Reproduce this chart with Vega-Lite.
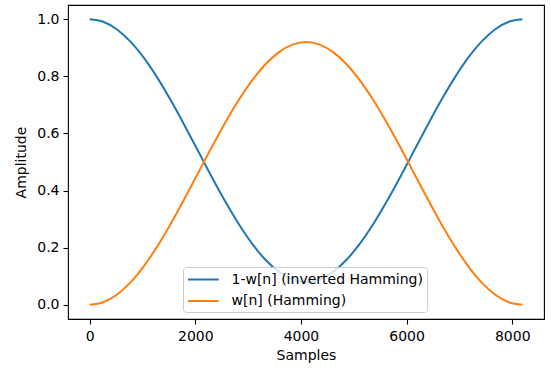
{
  "$schema": "https://vega.github.io/schema/vega-lite/v6.json",
  "width": 476,
  "height": 314,
  "autosize": "none",
  "padding": {"left": 68, "top": 5, "right": 7, "bottom": 49},
  "background": "white",
  "config": {
    "font": "DejaVu Sans",
    "view": {"stroke": "black", "strokeWidth": 1.1},
    "axis": {
      "grid": false,
      "domain": false,
      "tickColor": "black",
      "tickWidth": 1.1,
      "tickSize": 5,
      "labelFont": "DejaVu Sans",
      "labelFontSize": 14,
      "labelColor": "black",
      "labelPadding": 4,
      "titleFont": "DejaVu Sans",
      "titleFontSize": 14,
      "titleFontWeight": "normal",
      "titleColor": "black"
    }
  },
  "data": {
    "values": [
      {"n": 0, "series": "1-w[n] (inverted Hamming)", "amp": 1.0},
      {"n": 256, "series": "1-w[n] (inverted Hamming)", "amp": 0.9912},
      {"n": 512, "series": "1-w[n] (inverted Hamming)", "amp": 0.965},
      {"n": 768, "series": "1-w[n] (inverted Hamming)", "amp": 0.9225},
      {"n": 1024, "series": "1-w[n] (inverted Hamming)", "amp": 0.8653},
      {"n": 1280, "series": "1-w[n] (inverted Hamming)", "amp": 0.7956},
      {"n": 1536, "series": "1-w[n] (inverted Hamming)", "amp": 0.716},
      {"n": 1792, "series": "1-w[n] (inverted Hamming)", "amp": 0.6297},
      {"n": 2048, "series": "1-w[n] (inverted Hamming)", "amp": 0.54},
      {"n": 2304, "series": "1-w[n] (inverted Hamming)", "amp": 0.4503},
      {"n": 2560, "series": "1-w[n] (inverted Hamming)", "amp": 0.364},
      {"n": 2816, "series": "1-w[n] (inverted Hamming)", "amp": 0.2844},
      {"n": 3072, "series": "1-w[n] (inverted Hamming)", "amp": 0.2147},
      {"n": 3328, "series": "1-w[n] (inverted Hamming)", "amp": 0.1575},
      {"n": 3584, "series": "1-w[n] (inverted Hamming)", "amp": 0.115},
      {"n": 3840, "series": "1-w[n] (inverted Hamming)", "amp": 0.0888},
      {"n": 4096, "series": "1-w[n] (inverted Hamming)", "amp": 0.08},
      {"n": 4351, "series": "1-w[n] (inverted Hamming)", "amp": 0.0888},
      {"n": 4607, "series": "1-w[n] (inverted Hamming)", "amp": 0.115},
      {"n": 4863, "series": "1-w[n] (inverted Hamming)", "amp": 0.1575},
      {"n": 5119, "series": "1-w[n] (inverted Hamming)", "amp": 0.2147},
      {"n": 5375, "series": "1-w[n] (inverted Hamming)", "amp": 0.2844},
      {"n": 5631, "series": "1-w[n] (inverted Hamming)", "amp": 0.364},
      {"n": 5887, "series": "1-w[n] (inverted Hamming)", "amp": 0.4503},
      {"n": 6143, "series": "1-w[n] (inverted Hamming)", "amp": 0.54},
      {"n": 6399, "series": "1-w[n] (inverted Hamming)", "amp": 0.6297},
      {"n": 6655, "series": "1-w[n] (inverted Hamming)", "amp": 0.716},
      {"n": 6911, "series": "1-w[n] (inverted Hamming)", "amp": 0.7956},
      {"n": 7167, "series": "1-w[n] (inverted Hamming)", "amp": 0.8653},
      {"n": 7423, "series": "1-w[n] (inverted Hamming)", "amp": 0.9225},
      {"n": 7679, "series": "1-w[n] (inverted Hamming)", "amp": 0.965},
      {"n": 7935, "series": "1-w[n] (inverted Hamming)", "amp": 0.9912},
      {"n": 8191, "series": "1-w[n] (inverted Hamming)", "amp": 1.0},
      {"n": 0, "series": "w[n] (Hamming)", "amp": 0.0},
      {"n": 256, "series": "w[n] (Hamming)", "amp": 0.0088},
      {"n": 512, "series": "w[n] (Hamming)", "amp": 0.035},
      {"n": 768, "series": "w[n] (Hamming)", "amp": 0.0775},
      {"n": 1024, "series": "w[n] (Hamming)", "amp": 0.1347},
      {"n": 1280, "series": "w[n] (Hamming)", "amp": 0.2044},
      {"n": 1536, "series": "w[n] (Hamming)", "amp": 0.284},
      {"n": 1792, "series": "w[n] (Hamming)", "amp": 0.3703},
      {"n": 2048, "series": "w[n] (Hamming)", "amp": 0.46},
      {"n": 2304, "series": "w[n] (Hamming)", "amp": 0.5497},
      {"n": 2560, "series": "w[n] (Hamming)", "amp": 0.636},
      {"n": 2816, "series": "w[n] (Hamming)", "amp": 0.7156},
      {"n": 3072, "series": "w[n] (Hamming)", "amp": 0.7853},
      {"n": 3328, "series": "w[n] (Hamming)", "amp": 0.8425},
      {"n": 3584, "series": "w[n] (Hamming)", "amp": 0.885},
      {"n": 3840, "series": "w[n] (Hamming)", "amp": 0.9112},
      {"n": 4096, "series": "w[n] (Hamming)", "amp": 0.92},
      {"n": 4351, "series": "w[n] (Hamming)", "amp": 0.9112},
      {"n": 4607, "series": "w[n] (Hamming)", "amp": 0.885},
      {"n": 4863, "series": "w[n] (Hamming)", "amp": 0.8425},
      {"n": 5119, "series": "w[n] (Hamming)", "amp": 0.7853},
      {"n": 5375, "series": "w[n] (Hamming)", "amp": 0.7156},
      {"n": 5631, "series": "w[n] (Hamming)", "amp": 0.636},
      {"n": 5887, "series": "w[n] (Hamming)", "amp": 0.5497},
      {"n": 6143, "series": "w[n] (Hamming)", "amp": 0.46},
      {"n": 6399, "series": "w[n] (Hamming)", "amp": 0.3703},
      {"n": 6655, "series": "w[n] (Hamming)", "amp": 0.284},
      {"n": 6911, "series": "w[n] (Hamming)", "amp": 0.2044},
      {"n": 7167, "series": "w[n] (Hamming)", "amp": 0.1347},
      {"n": 7423, "series": "w[n] (Hamming)", "amp": 0.0775},
      {"n": 7679, "series": "w[n] (Hamming)", "amp": 0.035},
      {"n": 7935, "series": "w[n] (Hamming)", "amp": 0.0088},
      {"n": 8191, "series": "w[n] (Hamming)", "amp": 0.0}
    ]
  },
  "mark": {"type": "line", "strokeWidth": 2, "interpolate": "monotone"},
  "encoding": {
    "x": {
      "field": "n",
      "type": "quantitative",
      "title": "Samples",
      "scale": {"domain": [-410, 8601], "nice": false, "zero": false},
      "axis": {"values": [0, 2000, 4000, 6000, 8000], "format": "d", "labelPadding": 5, "titlePadding": 5}
    },
    "y": {
      "field": "amp",
      "type": "quantitative",
      "title": "Amplitude",
      "scale": {"domain": [-0.05, 1.05], "nice": false, "zero": false},
      "axis": {"values": [0, 0.2, 0.4, 0.6, 0.8, 1.0], "format": ".1f", "titlePadding": 8}
    },
    "color": {
      "field": "series",
      "type": "nominal",
      "scale": {
        "domain": ["1-w[n] (inverted Hamming)", "w[n] (Hamming)"],
        "range": ["#1f77b4", "#ff7f0e"]
      },
      "legend": {
        "title": null,
        "orient": "none",
        "legendX": 115,
        "legendY": 262,
        "direction": "vertical",
        "fillColor": "rgba(255,255,255,0.8)",
        "strokeColor": "#cccccc",
        "cornerRadius": 3,
        "padding": 4,
        "symbolType": "M-1,0H3.1",
        "symbolSize": 225,
        "symbolStrokeWidth": 2,
        "labelFont": "DejaVu Sans",
        "labelFontSize": 14,
        "labelColor": "black",
        "labelLimit": 400,
        "labelOffset": 27.5,
        "rowPadding": 5.5
      }
    }
  }
}
